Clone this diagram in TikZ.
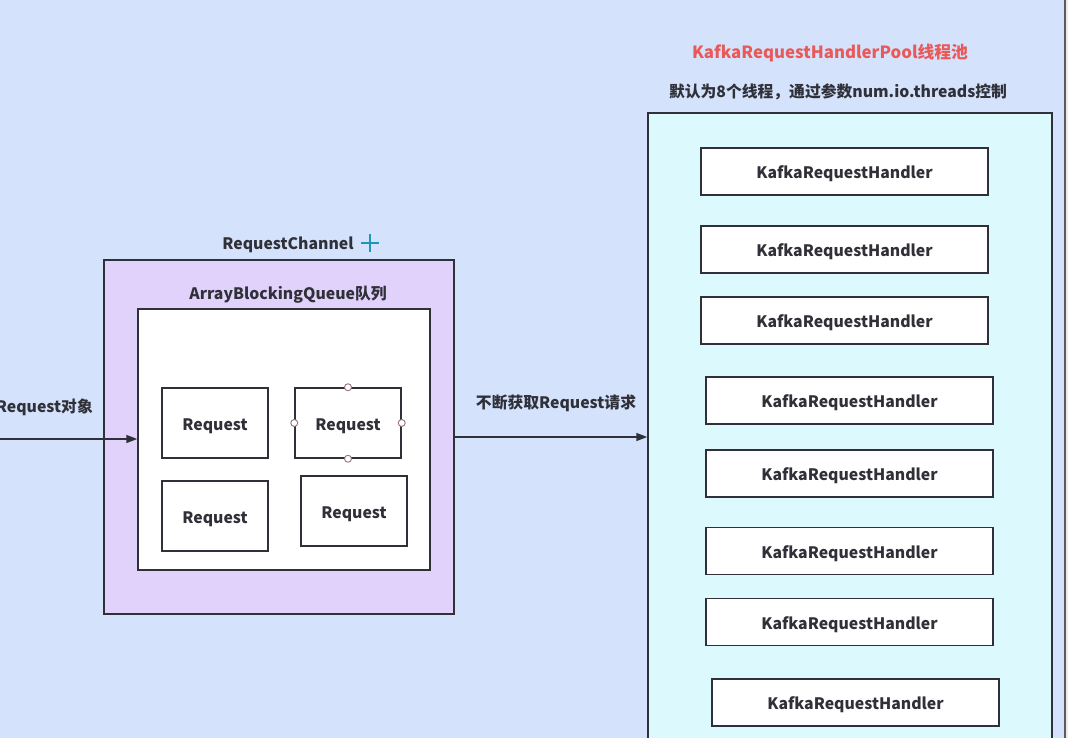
\documentclass[tikz,border=0pt]{standalone}
\usepackage{fontspec}
\setmainfont{Noto Sans CJK SC}
\usetikzlibrary{arrows.meta}
\definecolor{bgblue}{RGB}{212,226,252}
\definecolor{lavender}{RGB}{225,210,252}
\definecolor{poolcyan}{RGB}{220,250,254}
\definecolor{ink}{RGB}{48,48,56}
\definecolor{titlered}{RGB}{232,90,90}
\definecolor{plusteal}{RGB}{30,150,185}
\definecolor{handle}{RGB}{150,115,125}
\tikzset{
  lbl/.style={font=\bfseries\fontsize{15.8}{17}\selectfont, text=ink, text height=14.5pt, text depth=0pt},
  txt/.style={lbl, inner sep=0pt},
  frame/.style={draw=ink, line width=1.5pt, inner sep=0pt},
  reqbox/.style={frame, lbl, fill=white, minimum width=106pt, minimum height=70pt},
  handlerbox/.style={frame, lbl, fill=white, minimum width=287pt, minimum height=47pt},
  arr/.style={draw=ink, line width=1.5pt, -{Triangle[length=11pt,width=8pt]}},
  grip/.style={circle, draw=handle, fill=white, line width=0.9pt, minimum size=7pt, inner sep=0pt}
}
\begin{document}
\begin{tikzpicture}[x=1pt,y=-1pt]
\clip (0,0) rectangle (1068,738);
\fill[bgblue] (0,0) rectangle (1068,738);
\fill[black!8] (1066,0) rectangle (1068,738);
\draw[ink!80, line width=2pt] (1065,0) -- (1065,738);

% Request channel
\node[frame, fill=lavender, minimum width=350pt, minimum height=354pt] (outer) at (279,437) {};
\node[frame, fill=white, minimum width=292pt, minimum height=261pt] (inner) at (284,439.5) {};
\node[txt] (rclabel) at (288,242) {RequestChannel};
\draw[plusteal, line width=2pt] (361,243) -- (379,243) (370,234) -- (370,252);
\node[txt] (abq) at (288,292) {ArrayBlockingQueue队列};

\node[reqbox] (r1) at (215,423) {Request};
\node[reqbox] (r2) at (348,423) {Request};
\node[reqbox] (r3) at (215,516) {Request};
\node[reqbox] (r4) at (354,511) {Request};
\node[grip] (g1) at (r2.north) {};
\node[grip] (g2) at (r2.south) {};
\node[grip] (g3) at (r2.west) {};
\node[grip] (g4) at (r2.east) {};

% incoming arrow
\coordinate (lin) at (0,439);
\draw[arr] (lin) -- (lin -| inner.west);
\node[txt, anchor=east] (reqobj) at (93,405) {Request对象};

% pool
\node[frame, fill=poolcyan, minimum width=404pt, minimum height=660pt] (pool) at (850,443) {};
\node[txt, text=titlered, font=\bfseries\fontsize{16.8}{18}\selectfont] (pooltitle) at (830,51) {KafkaRequestHandlerPool线程池};
\node[txt] (poolsub) at (838,90) {默认为8个线程，通过参数num.io.threads控制};

\node[handlerbox] (h1) at (844.5,171.5) {KafkaRequestHandler};
\node[handlerbox] (h2) at (844.5,249.5) {KafkaRequestHandler};
\node[handlerbox] (h3) at (844.5,320.5) {KafkaRequestHandler};
\node[handlerbox] (h4) at (849.5,400.5) {KafkaRequestHandler};
\node[handlerbox] (h5) at (849.5,473.5) {KafkaRequestHandler};
\node[handlerbox] (h6) at (849.5,551) {KafkaRequestHandler};
\node[handlerbox] (h7) at (849.5,622) {KafkaRequestHandler};
\node[handlerbox] (h8) at (855.5,702.5) {KafkaRequestHandler};

% middle arrow
\draw[arr] (outer.east) -- (outer.east -| pool.west);
\node[txt] (fetch) at (556,401) {不断获取Request请求};
\end{tikzpicture}
\end{document}
